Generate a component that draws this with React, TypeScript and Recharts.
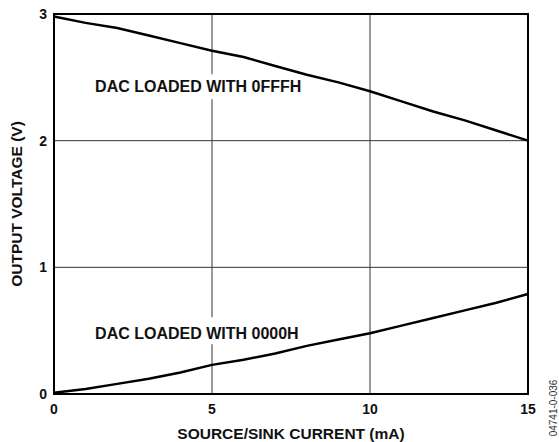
import React from 'react';
import {
  LineChart,
  Line,
  XAxis,
  YAxis,
  CartesianGrid,
  ReferenceArea,
  ReferenceDot,
} from 'recharts';

// source/sink current (mA)
const current = [0, 1, 2, 3, 4, 5, 6, 7, 8, 9, 10, 11, 12, 13, 14, 15];
// output voltage (V), DAC loaded with 0FFFH (sourcing)
const highCode = [2.98, 2.93, 2.89, 2.83, 2.77, 2.71, 2.66, 2.59, 2.52, 2.46, 2.39, 2.31, 2.23, 2.16, 2.08, 2.0];
// output voltage (V), DAC loaded with 0000H (sinking)
const lowCode = [0.01, 0.04, 0.08, 0.12, 0.17, 0.23, 0.27, 0.32, 0.38, 0.43, 0.48, 0.54, 0.6, 0.66, 0.72, 0.79];

const xTicks = [0, 5, 10, 15];
const yTicks = [0, 1, 2, 3];

const annotations = [
  { x: 1.3, y: 2.43, text: 'DAC LOADED WITH 0FFFH', up: 12, down: 13 },
  { x: 1.3, y: 0.48, text: 'DAC LOADED WITH 0000H', up: 16, down: 11 },
];

const data = current.map((c, i) => ({ c, high: highCode[i], low: lowCode[i] }));

const FONT = '"Liberation Sans", Arial, sans-serif';

function LabelBox(props: any) {
  const { cx, cy, text, up, down } = props;
  if (cx == null || cy == null) return null;
  return (
    <g>
      <rect x={cx - 3} y={cy - up} width={150} height={up + down} fill="#fff" />
      <text
        x={cx}
        y={cy}
        dominantBaseline="central"
        fontFamily={FONT}
        fontWeight="bold"
        fontSize={16}
        fill="#111"
      >
        {text}
      </text>
    </g>
  );
}

export default function App() {
  const tick = { fontFamily: FONT, fontWeight: 'bold', fontSize: 14, fill: '#111' };
  return (
    <div style={{ position: 'absolute', left: 0, top: 0, width: 559, height: 442, background: '#fff' }}>
      <LineChart
        width={559}
        height={442}
        data={data}
        margin={{ top: 14, right: 31, left: 0, bottom: 0 }}
      >
        <CartesianGrid stroke="#333" strokeWidth={1} />
        <XAxis
          dataKey="c"
          type="number"
          domain={[0, 15]}
          ticks={xTicks}
          height={48}
          axisLine={false}
          tickLine={false}
          tickSize={0}
          tickMargin={10}
          tick={tick}
          label={{
            value: 'SOURCE/SINK CURRENT (mA)',
            position: 'insideBottom',
            offset: 3,
            style: { fontFamily: FONT, fontWeight: 'bold', fontSize: 15.5, fill: '#111' },
          }}
        />
        <YAxis
          type="number"
          domain={[0, 3]}
          ticks={yTicks}
          width={54}
          axisLine={false}
          tickLine={false}
          tickSize={0}
          tickMargin={7}
          tick={tick}
          label={{
            value: 'OUTPUT VOLTAGE (V)',
            angle: -90,
            position: 'insideLeft',
            offset: 16,
            style: { fontFamily: FONT, fontWeight: 'bold', fontSize: 15.5, fill: '#111', textAnchor: 'middle' },
          }}
        />
        {annotations.map((a) => (
          <ReferenceDot
            key={a.text}
            x={a.x}
            y={a.y}
            r={0}
            shape={(p: any) => <LabelBox {...p} text={a.text} up={a.up} down={a.down} />}
          />
        ))}
        <ReferenceArea x1={0} x2={15} y1={0} y2={3} fill="none" stroke="#000" strokeWidth={2} />
        <Line dataKey="high" stroke="#000" strokeWidth={2.5} dot={false} isAnimationActive={false} />
        <Line dataKey="low" stroke="#000" strokeWidth={2.5} dot={false} isAnimationActive={false} />
      </LineChart>
      <div
        style={{
          position: 'absolute',
          left: 553,
          top: 408,
          transform: 'translate(-50%, -50%) rotate(-90deg)',
          fontFamily: FONT,
          fontSize: 10,
          color: '#333',
          whiteSpace: 'nowrap',
        }}
      >
        04741-0-036
      </div>
    </div>
  );
}
